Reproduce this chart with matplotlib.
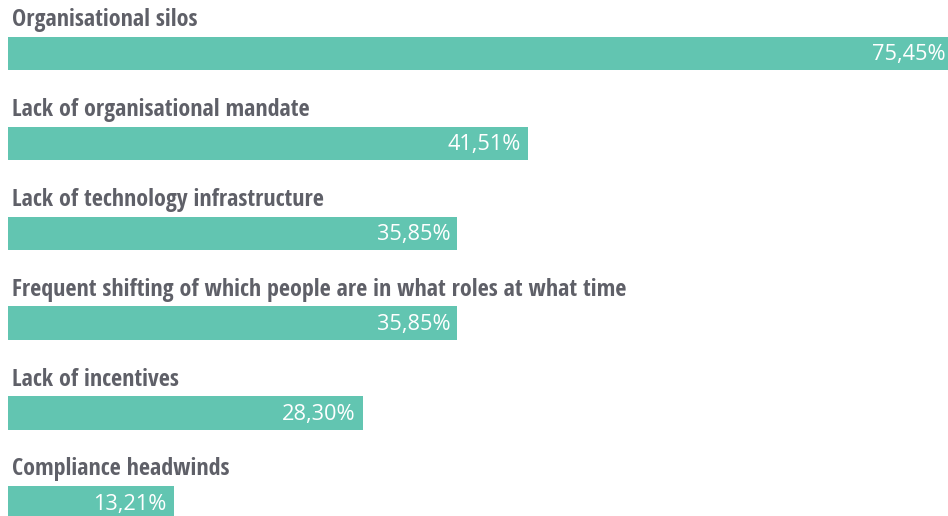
import matplotlib
matplotlib.use("Agg")
import matplotlib.pyplot as plt
from matplotlib import font_manager, transforms

categories = [
    "Organisational silos",
    "Lack of organisational mandate",
    "Lack of technology infrastructure",
    "Frequent shifting of which people are in what roles at what time",
    "Lack of incentives",
    "Compliance headwinds",
]
values = [75.45, 41.51, 35.85, 35.85, 28.30, 13.21]
value_labels = ["75,45%", "41,51%", "35,85%", "35,85%", "28,30%", "13,21%"]

BAR_COLOR = "#62c5b1"
LABEL_COLOR = "#5f6068"

# pick a narrow bold face for the category labels if one is available
names = {f.name for f in font_manager.fontManager.ttflist}
label_font = None
for cand in ["Open Sans Condensed", "Roboto Condensed", "Liberation Sans Narrow"]:
    if cand in names:
        label_font = {"family": cand, "weight": "bold"}
        break
if label_font is None:
    label_font = {"family": "DejaVu Sans", "weight": "bold", "stretch": "condensed"}

W, H, DPI = 948, 516, 100
fig = plt.figure(figsize=(W / DPI, H / DPI), dpi=DPI)
ax = fig.add_axes([0, 0, 1, 1])

px_per_unit = 12.53
left_px = 8
row_px = 89.9
first_center_px = 53.4
bar_px = 33.4

ax.set_xlim(-left_px / px_per_unit, (W - left_px) / px_per_unit)
ax.set_ylim((H - first_center_px) / row_px, -first_center_px / row_px)
ax.axis("off")

ypos = list(range(len(categories)))
ax.barh(ypos, values, height=bar_px / row_px, color=BAR_COLOR, linewidth=0)

xmax = ax.get_xlim()[1]
t_lab = transforms.offset_copy(ax.transData, fig=fig, x=4, y=27.5, units="dots")
t_val = transforms.offset_copy(ax.transData, fig=fig, x=0, y=-7, units="dots")
for y, cat, v, lab in zip(ypos, categories, values, value_labels):
    # category label above the bar
    ax.text(0, y, cat, transform=t_lab, ha="left", va="baseline",
            fontsize=17.25, color=LABEL_COLOR, **label_font)
    # value label inside the bar end, kept within the canvas
    xe = min(v - 7 / px_per_unit, xmax - 2 / px_per_unit)
    ax.text(xe, y, lab, transform=t_val, ha="right", va="baseline",
            fontsize=15.7, color="white", family="Open Sans", weight="normal")

fig.savefig("out.png", dpi=DPI)
